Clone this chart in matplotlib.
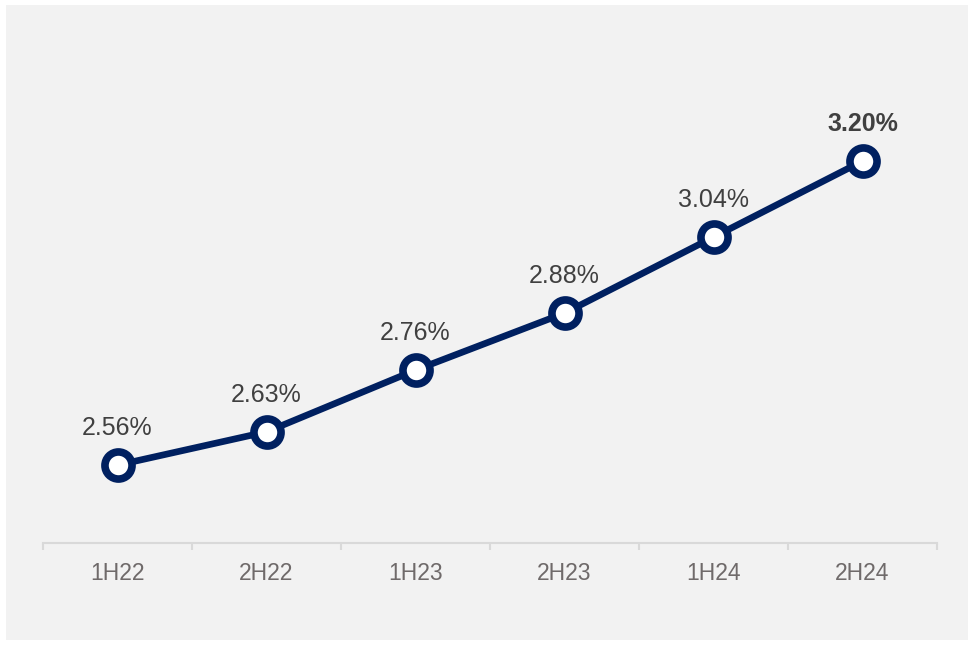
import matplotlib.pyplot as plt
from matplotlib.patches import Rectangle
import numpy as np

plt.rcParams['font.family'] = ['Liberation Sans', 'DejaVu Sans']

# Data
periods = ["1H22", "2H22", "1H23", "2H23", "1H24", "2H24"]
rates = [2.56, 2.63, 2.76, 2.88, 3.04, 3.20]
labels = ["2.56%", "2.63%", "2.76%", "2.88%", "3.04%", "3.20%"]

navy = "#002060"

fig = plt.figure(figsize=(9.74, 6.45), dpi=100)
fig.patch.set_facecolor("white")

# grey panel behind the chart
panel = Rectangle((6 / 974, 5 / 645), 962 / 974, 635 / 645,
                  transform=fig.transFigure, facecolor="#f2f2f2",
                  edgecolor="none", zorder=-10)
fig.add_artist(panel)

ax = fig.add_axes([43 / 974, (645 - 543) / 645, 894 / 974, 503 / 645])
ax.set_facecolor("none")
ax.set_zorder(1)

x = np.arange(len(periods))
ax.plot(x, rates, color=navy, linewidth=4.8, marker="o", markersize=19.5,
        markerfacecolor="white", markeredgecolor=navy, markeredgewidth=5.5,
        zorder=3, clip_on=False)

for i, (xv, yv, txt) in enumerate(zip(x, rates, labels)):
    last = i == len(x) - 1
    ax.annotate(txt, (xv, yv), xytext=(0, 26.5), textcoords="offset points",
                ha="center", va="center", fontsize=18, color="#404040",
                fontweight="bold" if last else "normal")

ax.set_xlim(-0.5, 5.5)
ax.set_ylim(2.396, 3.455)

for side in ["top", "right", "left"]:
    ax.spines[side].set_visible(False)
ax.spines["bottom"].set_color("#d9d9d9")
ax.spines["bottom"].set_linewidth(1.5)

ax.set_yticks([])
ax.set_xticks(x)
ax.set_xticklabels(periods, fontsize=16.5, color="#6f6a6a")
ax.tick_params(axis="x", which="major", length=0, pad=13.5)
ax.set_xticks(np.arange(-0.5, 6, 1), minor=True)
ax.tick_params(axis="x", which="minor", length=5, width=1.5, color="#d9d9d9")

fig.savefig("out.png", dpi=100)
